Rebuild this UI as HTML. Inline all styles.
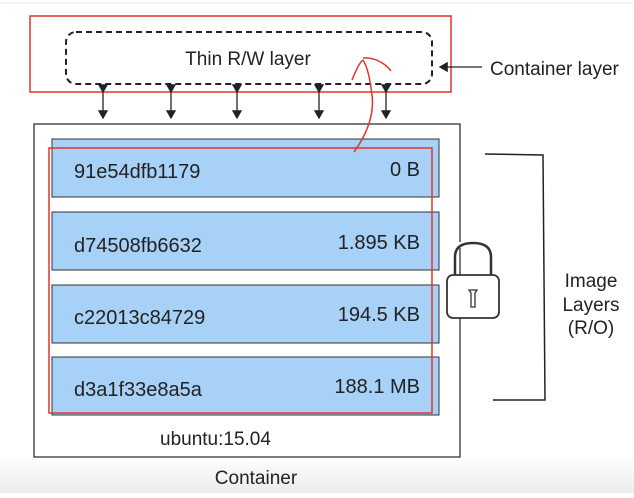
<!DOCTYPE html>
<html><head><style>
body{margin:0;background:#fff;width:634px;height:493px;overflow:hidden;font-family:"Liberation Sans",sans-serif;}
</style></head><body>
<svg width="634" height="493" xmlns="http://www.w3.org/2000/svg" font-family="Liberation Sans, sans-serif">
<defs>
<linearGradient id="g" x1="0" y1="0" x2="0" y2="1"><stop offset="0" stop-color="#fff"/><stop offset="1" stop-color="#ececec"/></linearGradient>
<marker id="ah" markerWidth="8" markerHeight="8" refX="6" refY="4" orient="auto"><path d="M0,0 L7,4 L0,8 z" fill="#222"/></marker>
</defs>
<rect x="0" y="455" width="634" height="38" fill="url(#g)"/>
<line x1="0" y1="3" x2="634" y2="3" stroke="#e8e8e8"/>
<rect x="30" y="16" width="421" height="76" fill="none" stroke="#e0352b" stroke-width="1.5"/>
<rect x="66" y="32" width="366" height="52" rx="10" fill="none" stroke="#222" stroke-width="2" stroke-dasharray="6,4"/>
<text x="248" y="65" font-size="19" text-anchor="middle" fill="#222">Thin R/W layer</text>
<line x1="482" y1="67" x2="440" y2="67" stroke="#222" stroke-width="1.3" marker-end="url(#ah)"/>
<text x="490" y="75" font-size="19" fill="#222">Container layer</text>
<g stroke="#222" stroke-width="1.3" marker-end="url(#ah)" marker-start="url(#ah)">
<line x1="103" y1="92" x2="103" y2="118"/><line x1="171" y1="92" x2="171" y2="118"/><line x1="237" y1="92" x2="237" y2="118"/><line x1="319" y1="92" x2="319" y2="118"/><line x1="386" y1="92" x2="386" y2="118"/>
</g>
<rect x="34" y="124" width="426" height="333" fill="none" stroke="#333" stroke-width="1.3"/>
<g fill="#a7d1f7" stroke="#333" stroke-width="1">
<rect x="52" y="139" width="387" height="58"/>
<rect x="52" y="212" width="387" height="58"/>
<rect x="52" y="285" width="387" height="58"/>
<rect x="52" y="357" width="387" height="58"/>
</g>
<rect x="49" y="148" width="383" height="265" fill="none" stroke="#e0352b" stroke-width="1.5"/>
<g font-size="20" fill="#222">
<text x="74" y="178">91e54dfb1179</text><text x="420" y="176" text-anchor="end">0 B</text>
<text x="74" y="252">d74508fb6632</text><text x="420" y="249" text-anchor="end">1.895 KB</text>
<text x="74" y="324">c22013c84729</text><text x="420" y="321" text-anchor="end">194.5 KB</text>
<text x="74" y="396">d3a1f33e8a5a</text><text x="420" y="393" text-anchor="end">188.1 MB</text>
</g>
<g font-size="19" fill="#222">
<text x="160" y="445">ubuntu:15.04</text>
<text x="256" y="484" text-anchor="middle">Container</text>
</g>
<path d="M354,152 C370,130 374,110 372,95 C370,80 368,68 363,60 M352,80 C356,70 360,62 363,60 M363,58 C374,57 385,63 391,71" fill="none" stroke="#e0352b" stroke-width="1.5"/>
<path d="M485,154 L543,155 L545,400 L493,400" fill="none" stroke="#222" stroke-width="1.5"/>
<rect x="447" y="242" width="28" height="6" fill="#fff"/>
<path d="M455,278 L455,257 Q455,243 473,243 Q491,243 491,257 L491,278" fill="none" stroke="#333" stroke-width="2.5"/>
<rect x="447" y="275" width="52" height="43" rx="6" fill="#fff" stroke="#333" stroke-width="1.8"/>
<path d="M469,290 L477,290 L475,293 L475,307 L471,307 L471,293 Z" fill="none" stroke="#333" stroke-width="1.3"/>
<g font-size="19" fill="#222" text-anchor="middle">
<text x="591" y="287">Image</text><text x="591" y="311">Layers</text><text x="591" y="334">(R/O)</text>
</g>
</svg>
</body></html>
